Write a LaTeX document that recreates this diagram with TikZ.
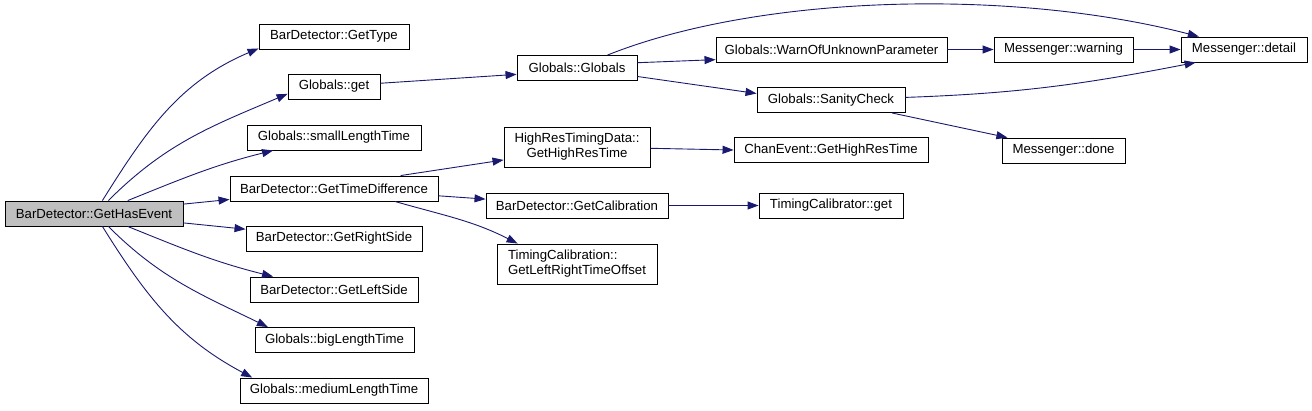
\documentclass[tikz,border=0pt]{standalone}
\usepackage{fontspec}
\setmainfont{Liberation Sans}
\usepackage{xcolor}
\usepackage{tikz}
\usetikzlibrary{arrows.meta}
\definecolor{callblue}{HTML}{191970}
\definecolor{rootgray}{HTML}{BFBFBF}

\begin{document}
\begin{tikzpicture}[x=1pt,y=1pt,>={Triangle[length=11pt,width=8pt]},
  fn/.style={draw=black,fill=white,line width=0.9pt,inner sep=0pt,minimum height=25pt,font=\fontsize{13.2}{15}\selectfont},
  call/.style={->,draw=callblue,line width=0.9pt}]
  \useasboundingbox (0,0) rectangle (1312,-410);
  % caller and its direct callees
  \node[fn,fill=rootgray,minimum width=178pt] (hasevent) at (94,-213.5) {BarDetector::GetHasEvent};
  \node[fn,minimum width=150pt] (gettype) at (334,-36.5) {BarDetector::GetType};
  \node[fn,minimum width=92pt] (globget) at (334,-86.5) {Globals::get};
  \node[fn,minimum width=174pt] (smalllt) at (334,-137.5) {Globals::smallLengthTime};
  \node[fn,minimum width=208pt] (timediff) at (334,-188.5) {BarDetector::GetTimeDifference};
  \node[fn,minimum width=176pt] (rightside) at (334,-238.5) {BarDetector::GetRightSide};
  \node[fn,minimum width=168pt] (leftside) at (334,-289.5) {BarDetector::GetLeftSide};
  \node[fn,minimum width=159pt] (biglt) at (334.5,-340) {Globals::bigLengthTime};
  \node[fn,minimum width=188pt] (mediumlt) at (334,-390.5) {Globals::mediumLengthTime};
  % second level
  \node[fn,minimum width=120pt] (globals) at (577,-68) {Globals::Globals};
  \node[fn,minimum width=146pt,minimum height=40pt,align=center] (highres) at (577,-147) {HighResTimingData::\\GetHighResTime};
  \node[fn,minimum width=182pt] (getcalib) at (577,-205.5) {BarDetector::GetCalibration};
  \node[fn,minimum width=160pt,minimum height=40pt,align=left] (lroffset) at (577,-264) {TimingCalibration::\\GetLeftRightTimeOffset};
  % third level
  \node[fn,minimum width=231pt] (warn) at (831.5,-49.5) {Globals::WarnOfUnknownParameter};
  \node[fn,minimum width=148pt] (sanity) at (831,-100) {Globals::SanityCheck};
  \node[fn,minimum width=194pt] (chanevent) at (831,-150) {ChanEvent::GetHighResTime};
  \node[fn,minimum width=144pt] (tcalget) at (831,-205.5) {TimingCalibrator::get};
  % messenger
  \node[fn,minimum width=139pt] (warning) at (1063.5,-49.5) {Messenger::warning};
  \node[fn,minimum width=123pt] (done) at (1063.5,-150.5) {Messenger::done};
  \node[fn,minimum width=126pt] (detail) at (1244,-49.5) {Messenger::detail};

  \draw[call] (hasevent.57) to[out=58,in=203] (gettype.189);
  \draw[call] (hasevent.42) to[out=45,in=203] (globget.189);
  \draw[call] (hasevent.21) to[out=22,in=194] (smalllt.192);
  \draw[call] (hasevent.6) -- (timediff.186);
  \draw[call] (hasevent.-6) -- (rightside.174);
  \draw[call] (hasevent.-21) to[out=-22,in=166] (leftside.168);
  \draw[call] (hasevent.-42) to[out=-45,in=154] (biglt.169);
  \draw[call] (hasevent.-57) to[out=-58,in=152] (mediumlt.171);

  \draw[call] (globget.4) -- (globals.186);
  \draw[call] (globals.23) .. controls +(150,60) and +(-190,49) .. (detail.164);
  \draw[call] (globals.5) -- (warn.185);
  \draw[call] (globals.-8) -- (sanity.175);
  \draw[call] (warn.east) -- (warning.west);
  \draw[call] (warning.east) -- (detail.west);
  \draw[call] (sanity.2) to[out=2,in=191] (detail.195);
  \draw[call] (sanity.-12) -- (done.167);

  \draw[call] (timediff.11) -- (highres.190);
  \draw[call] (timediff.-4) -- (getcalib.176);
  \draw[call] (timediff.-12) to[out=-16,in=153] (lroffset.161);
  \draw[call] (highres.-1) -- (chanevent.west);
  \draw[call] (getcalib.east) -- (tcalget.west);
\end{tikzpicture}
\end{document}
